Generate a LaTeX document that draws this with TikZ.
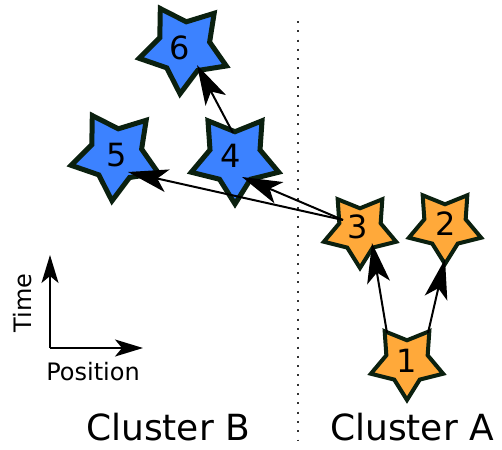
\documentclass[tikz,border=0pt]{standalone}
\usepackage{fontspec}
\setmainfont{DejaVu Sans}
\usetikzlibrary{shapes.geometric,arrows.meta}
\definecolor{sblue}{HTML}{3C82FF}
\definecolor{sorange}{HTML}{FFA93A}
\definecolor{sedge}{HTML}{0B200F}
\tikzset{
  bstar/.style={star, star points=5, star point ratio=1.75, shape border rotate=180, draw=sedge, line width=5pt, fill=sblue, minimum size=92pt, inner sep=0pt},
  ostar/.style={star, star points=5, star point ratio=1.75, shape border rotate=180, draw=sedge, line width=4pt, fill=sorange, minimum size=76pt, inner sep=0pt},
  tilted/.style={shape border rotate=175},
  num/.style={font=\fontsize{32}{32}\selectfont, inner sep=0pt},
  arr/.style={line width=2pt, -{Stealth[length=40pt, width=23pt, inset=10pt]}},
  axarr/.style={line width=2pt, -{Stealth[length=28pt, width=17pt, inset=7pt]}},
  lbl/.style={font=\fontsize{24}{24}\selectfont, inner sep=0pt},
  clbl/.style={font=\fontsize{36}{36}\selectfont, inner sep=0pt, anchor=base},
}
\begin{document}
\begin{tikzpicture}[x=1pt, y=-1pt]
\useasboundingbox (0,0) rectangle (502,449);
% divider
\coordinate (dtop) at (297.5,21);
\coordinate (dbot) at (297.5,440);
\draw[line width=2pt, dash pattern=on 2pt off 7.3pt, color=black!80] (dtop) -- (dbot);
% stars
\node[bstar, tilted] (n6) at (184,48) {};
\node[bstar] (n4) at (235,158) {};
\node[bstar, tilted] (n5) at (116,155) {};
\node[ostar] (n3) at (360,230) {};
\node[ostar] (n2) at (445,226) {};
\node[ostar] (n1) at (407,362) {};
% labels
\node[num] (t6) at (180,48) {6};
\node[num] (t4) at (231,156) {4};
\node[num] (t5) at (117,155) {5};
\node[num] (t3) at (358,227) {3};
\node[num] (t2) at (446,224) {2};
\node[num] (t1) at (407,361) {1};
% arrows
\draw[arr] ([shift={(-20,-29)}]n1.center) -- ([shift={(12,13)}]n3.center);
\draw[arr] ([shift={(21,-29)}]n1.center) -- ([shift={(0,33)}]n2.center);
\draw[arr] ([shift={(-17,-10)}]n3.center) -- ([shift={(7,19)}]n4.center);
\draw[arr] ([shift={(-17,-10)}]n3.center) -- ([shift={(12,17)}]n5.center);
\draw[arr] ([shift={(-2,-25)}]n4.center) -- ([shift={(13,17)}]n6.center);
% axes
\coordinate (o) at (50,348);
\coordinate (ty) at (50,255);
\coordinate (tx) at (143,348);
\draw[axarr] (o) -- (ty);
\draw[axarr] (o) -- (tx);
\node[lbl, rotate=90] (time) at (23,303) {Time};
\node[lbl] (pos) at (93,372) {Position};
% clusters
\node[clbl] (cb) at (168,440) {Cluster B};
\node[clbl] (ca) at (412,440) {Cluster A};
\end{tikzpicture}
\end{document}
